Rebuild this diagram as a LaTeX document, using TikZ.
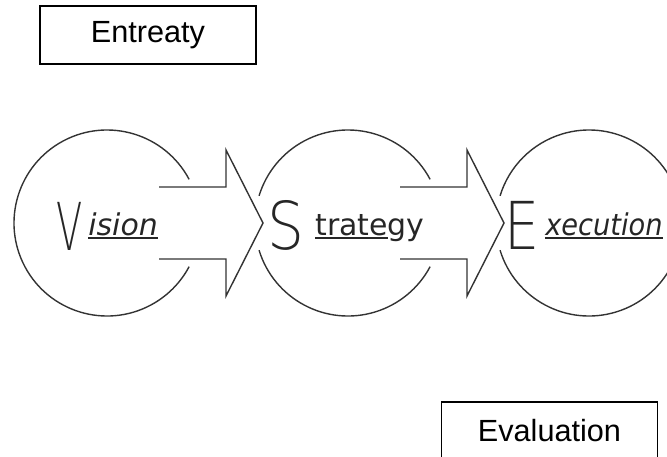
\documentclass[tikz,border=0pt]{standalone}
\usepackage{fontspec}
\setmainfont{Liberation Sans}
\newfontfamily\handfont{DejaVu Sans}
\newfontfamily\thinfont{DejaVu Sans ExtraLight}
\usepackage{tikz}

\newlength{\wordwd}
\newcommand{\wordline}[1]{\settowidth{\wordwd}{#1}\rlap{\rule[-2.6pt]{\wordwd}{1.2pt}}#1}

\begin{document}
\begin{tikzpicture}[
  labelbox/.style={rectangle, draw=black, line width=1.4pt, minimum width=5.4cm,
    minimum height=1.45cm, inner sep=0pt, font=\fontsize{21.8}{26}\selectfont},
  ring/.style={draw=black!80, line width=1pt},
  blockarr/.style={draw=black!80, line width=1pt, line join=miter},
  initial/.style={inner sep=0pt, text=black!85, font=\thinfont\fontsize{47}{50}\selectfont},
  word/.style={inner sep=0pt, anchor=base west, text=black!85,
    font=\handfont\fontsize{21.3}{24}\selectfont}
]
\useasboundingbox (0,0) rectangle (16.675,-11.425);
\clip (0,0) rectangle (16.675,-11.425);

\node[labelbox] (entreaty) at (3.7,-0.875) {Entreaty};
\node[labelbox] (evaluation) at (13.7375,-10.775) {Evaluation};

\coordinate (vis) at (2.675,-5.575);
\coordinate (strat) at (8.7,-5.575);
\coordinate (exec) at (14.725,-5.575);

% circles, open where the arrows go out and come in
\draw[ring] (vis) ++(28:2.325) arc[start angle=28, end angle=332, radius=2.325];
\draw[ring] (strat) ++(28:2.325) arc[start angle=28, end angle=163, radius=2.325];
\draw[ring] (strat) ++(197:2.325) arc[start angle=197, end angle=332, radius=2.325];
\draw[ring] (exec) ++(-163:2.325) arc[start angle=-163, end angle=163, radius=2.325];

% block arrows
\draw[blockarr] (vis) ++(1.3,0.9) -- ++(1.675,0) -- ++(0,0.925) -- ++(0.925,-1.825)
  -- ++(-0.925,-1.825) -- ++(0,0.925) -- ++(-1.675,0);
\draw[blockarr] (strat) ++(1.3,0.9) -- ++(1.675,0) -- ++(0,0.925) -- ++(0.925,-1.825)
  -- ++(-0.925,-1.825) -- ++(0,0.925) -- ++(-1.675,0);

\node[initial] (vinit) at (1.75,-5.66) {\scalebox{0.58}[1]{V}};
\node[word] (vword) at (2.2,-5.875) {\itshape\wordline{ision}};

\node[initial] (sinit) at (7.16,-5.625) {\scalebox{0.88}[1]{S}};
\node[word] (sword) at (7.875,-5.875) {\wordline{trate}gy};

\node[initial] (einit) at (13.06,-5.625) {\scalebox{0.84}[1]{E}};
\node[word] (eword) at (13.625,-5.875) {\scalebox{0.91}[1]{\itshape\wordline{xecution}}};

\end{tikzpicture}
\end{document}
